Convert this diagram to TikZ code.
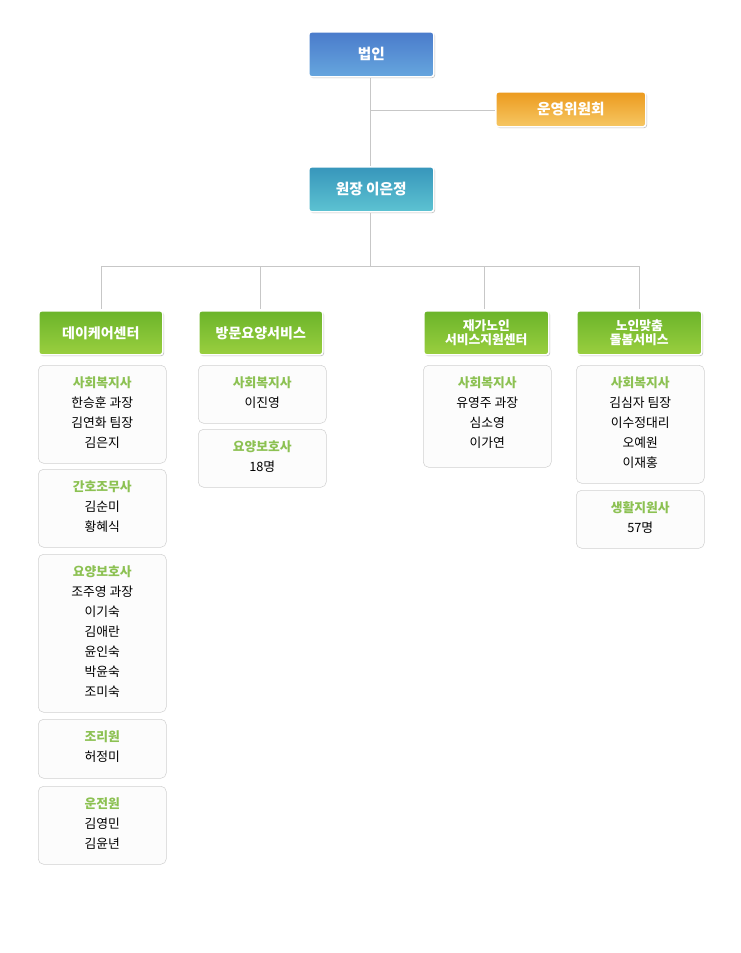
\documentclass[tikz,border=0pt]{standalone}
\usepackage{fontspec}
\setmainfont{Noto Sans CJK KR}
\begin{document}
\begin{tikzpicture}[x=0.75pt,y=-0.75pt,
  hd/.style={draw=white,line width=1.2pt,rounded corners=2pt,anchor=north west,inner sep=0pt,text=white,font=\bfseries\fontsize{11}{13}\selectfont,align=center},
  sh/.style={fill=black!25,rounded corners=2pt},
  blk/.style={draw=black!18,fill=black!1,rounded corners=4pt,anchor=north west,inner sep=0pt,align=center,font=\fontsize{9.6}{15}\selectfont},
  ln/.style={draw=black!22,line width=0.6pt}]
\useasboundingbox (0,0) rectangle (740,953);
\newcommand{\hdbox}[7]{% name x y w h top bottom
  \fill[sh] (#2+2,#3+2) rectangle ++(#4,#5);
  \node[hd,top color=#6,bottom color=#7,minimum width=#4*0.75pt,minimum height=#5*0.75pt] (#1) at (#2,#3) {};}
\coordinate (c1) at (370,110);
\coordinate (c2) at (370,266);
\coordinate (l1) at (101,266);\coordinate (l4) at (639,266);
\draw[ln] (370,76) -- (370,166);
\draw[ln] (c1) -- (495,110);
\draw[ln] (370,211) -- (c2);
\draw[ln] (l1) -- (l4);
\foreach \x in {101,260,484,639} \draw[ln] (\x,266) -- (\x,309);
\definecolor{b1}{HTML}{4A7BCB}\definecolor{b2}{HTML}{66A6DE}
\definecolor{o1}{HTML}{EC9A1E}\definecolor{o2}{HTML}{F6C764}
\definecolor{t1}{HTML}{3796BB}\definecolor{t2}{HTML}{5DC3D2}
\definecolor{g1}{HTML}{6BB42A}\definecolor{g2}{HTML}{9ACF3F}
\definecolor{tg}{HTML}{8CC152}
\hdbox{law}{308}{31}{125}{45}{b1}{b2}
\node[text=white,font=\bfseries\fontsize{11}{13}\selectfont] at (law.center) {법인};
\hdbox{com}{495}{91}{150}{35}{o1}{o2}
\node[text=white,font=\bfseries\fontsize{11}{13}\selectfont] at (com.center) {운영위원회};
\hdbox{dir}{308}{166}{125}{45}{t1}{t2}
\node[text=white,font=\bfseries\fontsize{11}{13}\selectfont] at (dir.center) {원장 이은정};
\hdbox{g1b}{38}{310}{124}{44}{g1}{g2}
\hdbox{g2b}{198}{310}{124}{44}{g1}{g2}
\hdbox{g3b}{423}{310}{125}{44}{g1}{g2}
\hdbox{g4b}{576}{310}{125}{44}{g1}{g2}
\tikzset{gl/.style={text=white,font=\bfseries\fontsize{10.5}{11}\selectfont,align=center}}
\node[gl] at (g1b.center) {데이케어센터};
\node[gl] at (g2b.center) {방문요양서비스};
\node[gl,font=\bfseries\fontsize{9.6}{11}\selectfont] at (g3b.center) {재가노인\\서비스지원센터};
\node[gl,font=\bfseries\fontsize{9.6}{11}\selectfont] at (g4b.center) {노인맞춤\\돌봄서비스};
\newcommand{\card}[6]{% name x y w h content
  \node[blk,minimum width=#4*0.75pt,minimum height=#5*0.75pt] (#1) at (#2,#3) {};
  \node[anchor=north,align=center,font=\fontsize{9.6}{15}\selectfont,inner sep=0pt] at ([yshift=-8.5pt]#1.north) {#6};}
\newcommand{\ttl}[1]{\textcolor{tg}{\bfseries #1}}
\card{a1}{38}{365}{128}{98}{\ttl{사회복지사}\\한승훈 과장\\김연화 팀장\\김은지}
\card{a2}{38}{469}{128}{78}{\ttl{간호조무사}\\김순미\\황혜식}
\card{a3}{38}{554}{128}{158}{\ttl{요양보호사}\\조주영 과장\\이기숙\\김애란\\윤인숙\\박윤숙\\조미숙}
\card{a4}{38}{719}{128}{59}{\ttl{조리원}\\허정미}
\card{a5}{38}{786}{128}{78}{\ttl{운전원}\\김영민\\김윤년}
\card{b1c}{198}{365}{128}{58}{\ttl{사회복지사}\\이진영}
\card{b2c}{198}{429}{128}{58}{\ttl{요양보호사}\\18명}
\card{c1c}{423}{365}{128}{102}{\ttl{사회복지사}\\유영주 과장\\심소영\\이가연}
\card{d1c}{576}{365}{128}{118}{\ttl{사회복지사}\\김심자 팀장\\이수정대리\\오예원\\이재홍}
\card{d2c}{576}{490}{128}{58}{\ttl{생활지원사}\\57명}
\end{tikzpicture}
\end{document}
